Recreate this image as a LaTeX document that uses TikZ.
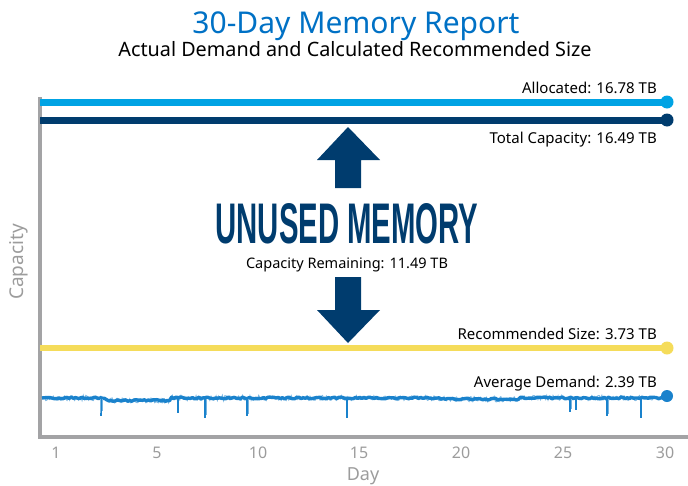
\documentclass[tikz,border=0pt]{standalone}
\usepackage{fontspec}
\setmainfont{Noto Sans}
\newfontfamily\boldcond{Liberation Sans}
\usepackage{graphicx}
\definecolor{titleblue}{HTML}{0071C5}
\definecolor{alloc}{HTML}{00A3E4}
\definecolor{navy}{HTML}{003C6E}
\definecolor{yell}{HTML}{F5DC5A}
\definecolor{demand}{HTML}{1A82CC}
\definecolor{axisgray}{HTML}{A3A3A5}
\definecolor{txtgray}{HTML}{9C9C9C}
\begin{document}
\begin{tikzpicture}[x=1pt,y=-1pt,
  serieslab/.style={anchor=base east,font=\fontsize{15}{15}\selectfont,inner sep=0pt},
  ticklab/.style={font=\fontsize{16}{16}\selectfont,text=txtgray,anchor=base,inner sep=0pt},
  bigarrow/.style={fill=navy,draw=none}]
\useasboundingbox (0,0) rectangle (688,485);
% titles
\node[anchor=base,inner sep=0pt,text=titleblue,font=\fontsize{30}{30}\selectfont] (title) at (356,33) {30-Day Memory Report};
\node[anchor=base,inner sep=0pt,font=\fontsize{19.8}{19.8}\selectfont] (sub) at (355,56) {Actual Demand and Calculated Recommended Size};
% axes
\coordinate (ytop) at (40,97);
\coordinate (orig) at (40,437);
\coordinate (xend) at (688,437);
\draw[axisgray,line width=4pt] (ytop) -- (orig) -- (xend);
% series lines
\coordinate (a0) at (40,102); \coordinate (a1) at (667,102);
\draw[alloc,line width=7pt] (a0) -- (a1);
\fill[alloc] (a1) circle (6.5);
\coordinate (t0) at (40,120); \coordinate (t1) at (667,120);
\draw[navy,line width=7pt] (t0) -- (t1);
\fill[navy] (t1) circle (6.5);
\coordinate (r0) at (40,348); \coordinate (r1) at (667,348);
\draw[yell,line width=6pt] (r0) -- (r1);
\fill[yell] (r1) circle (6.5);
% demand
\pgfmathsetseed{7}
\draw[demand!55,line width=1pt] plot[domain=42:667,samples=500] (\x,{398+2.6*rand+ (\x>105)*(\x<170)*2.5 + (\x>440)*(\x<520)*1.2});
\pgfmathsetseed{11}
\draw[demand,line width=3.4pt,line join=round] plot[domain=42:667,samples=300,smooth] (\x,{398+0.9*rand+ (\x>105)*(\x<170)*2.5 + (\x>440)*(\x<520)*1.2});
\foreach \sx/\sd in {101/18,178/15,205/20,247/18,347/20,570/14,576/12,607/18,641/20}
  \draw[demand,line width=1.4pt] (\sx,398) -- (\sx,398+\sd);
\foreach \sx/\sd in {100/14,102/12,206/16,248/15,571/10,608/15}
  \draw[demand!60,line width=1pt] (\sx,399) -- (\sx,399+\sd);
\coordinate (d1) at (667,396);
\fill[demand] (d1) circle (6);
% labels
\node[serieslab] (la) at (657,93) {Allocated: 16.78 TB};
\node[serieslab] (lt) at (657,143) {Total Capacity: 16.49 TB};
\node[serieslab] (lr) at (657,339) {Recommended Size: 3.73 TB};
\node[serieslab] (ld) at (657,387) {Average Demand: 2.39 TB};
% arrows
\fill[bigarrow] (348,127) -- (380,160) -- (361,160) -- (361,188) -- (335,188) -- (335,160) -- (317,160) -- cycle;
\fill[bigarrow] (348,343) -- (380,310) -- (361,310) -- (361,277) -- (335,277) -- (335,310) -- (317,310) -- cycle;
\node[anchor=base,inner sep=0pt,text=navy] (unused) at (347,243) {\resizebox{263pt}{40pt}{\boldcond\bfseries UNUSED MEMORY}};
\node[anchor=base,inner sep=0pt,font=\fontsize{14.5}{14.5}\selectfont] (rem) at (347,268) {Capacity Remaining: 11.49 TB};
% tick labels
\foreach \d/\px in {1/56,5/157,10/258,15/359,20/461,25/563,30/665}
  \node[ticklab] at (\px,458) {\d};
\node[ticklab,font=\fontsize{18}{18}\selectfont] (xlab) at (363,480) {Day};
\node[font=\fontsize{19}{19}\selectfont,text=txtgray,rotate=90,inner sep=0pt] (ylab) at (19,262) {Capacity};
\end{tikzpicture}
\end{document}
